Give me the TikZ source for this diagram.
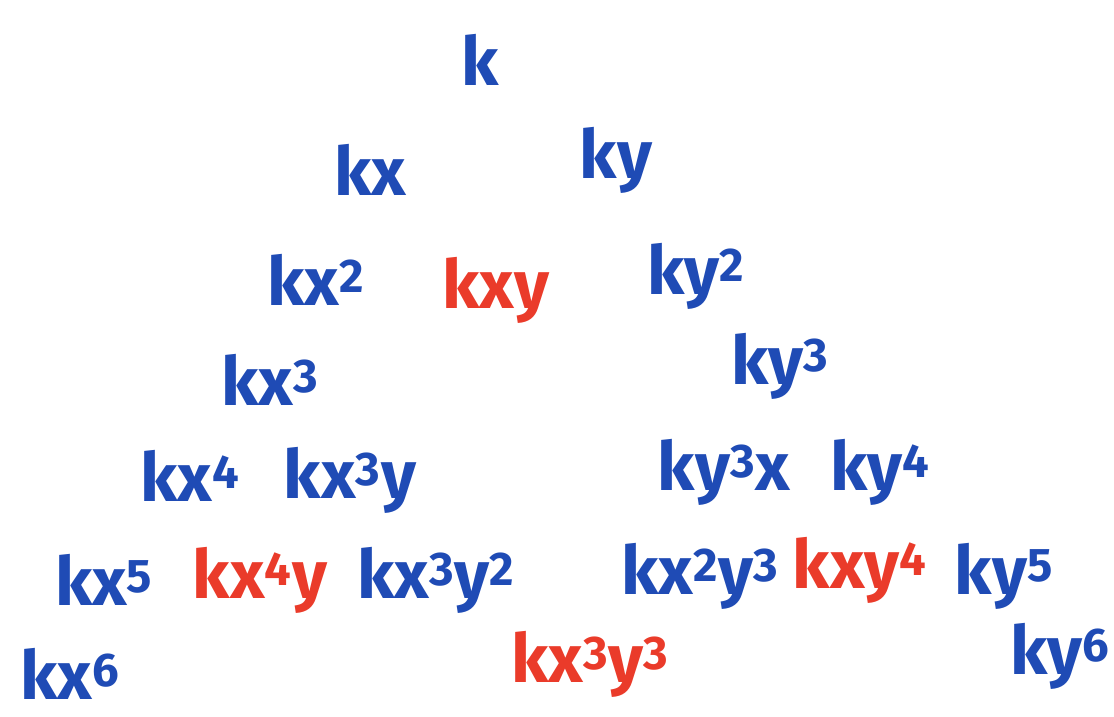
\documentclass[tikz,border=0pt]{standalone}
\usepackage{fontspec}
\setmainfont{Fira Sans}
\usepackage{xcolor}
\definecolor{inkblue}{HTML}{1F4BB5}
\definecolor{inkred}{HTML}{EA3B2A}
\newcommand{\sq}[1]{\textsuperscript{#1}}

\begin{document}
\begin{tikzpicture}[
    term/.style={font=\fontsize{48}{54}\selectfont\bfseries, text=#1, inner sep=2pt},
    term/.default=inkblue,
  ]
  \useasboundingbox (0,0) rectangle (27.85,-17.925);

  % =================== ROW 0 ===================
  \node[term] (k) at (12.0, -1.5) {k};

  % =================== ROW 1 ===================
  \node[term] (kx) at (9.25, -4.25) {kx};
  \node[term] (ky) at (15.4, -4.0) {ky};

  % =================== ROW 2 ===================
  \node[term] (kx2) at (7.9, -7.0) {kx\sq{2}};
  \node[term=inkred] (kxy) at (12.4, -7.25) {kxy};
  \node[term] (ky2) at (17.4, -6.9) {ky\sq{2}};

  % =================== ROW 3 ===================
  \node[term] (kx3) at (6.75, -9.5) {kx\sq{3}};
  \node[term] (ky3) at (19.5, -9.15) {ky\sq{3}};

  % =================== ROW 4 ===================
  \node[term] (kx4) at (4.75, -11.9) {kx\sq{4}};
  \node[term] (kx3y) at (8.75, -12.0) {kx\sq{3}y};
  \node[term] (ky3x) at (18.1, -11.8) {ky\sq{3}x};
  \node[term] (ky4) at (22.0, -11.8) {ky\sq{4}};

  % =================== ROW 5 ===================
  \node[term] (kx5) at (2.6, -14.5) {kx\sq{5}};
  \node[term=inkred] (kx4y) at (6.5, -14.5) {kx\sq{4}y};
  \node[term] (kx3y2) at (10.9, -14.5) {kx\sq{3}y\sq{2}};
  \node[term] (kx2y3) at (17.5, -14.4) {kx\sq{2}y\sq{3}};
  \node[term=inkred] (kxy4) at (21.5, -14.25) {kxy\sq{4}};
  \node[term] (ky5) at (25.1, -14.4) {ky\sq{5}};

  % =================== ROW 6 ===================
  \node[term] (kx6) at (1.75, -16.85) {kx\sq{6}};
  \node[term=inkred] (kx3y3) at (14.75, -16.6) {kx\sq{3}y\sq{3}};
  \node[term] (ky6) at (26.5, -16.4) {ky\sq{6}};

\end{tikzpicture}
\end{document}
